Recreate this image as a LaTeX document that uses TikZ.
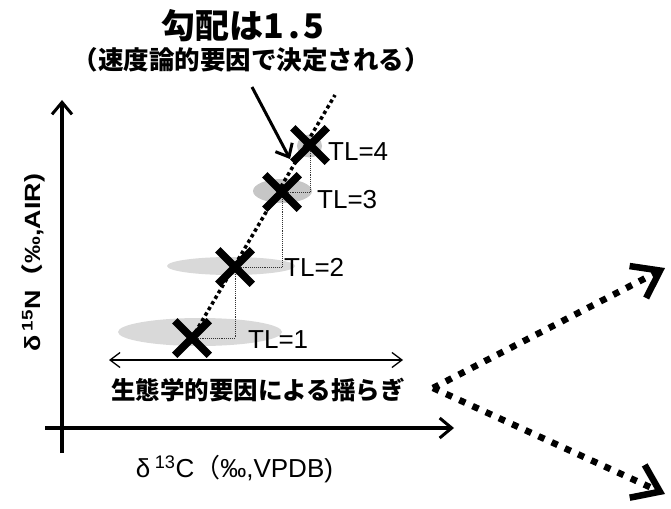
\documentclass[tikz,border=0pt]{standalone}
\usepackage{fontspec}
\setmainfont{Liberation Sans}
\newfontfamily\jp{Noto Sans CJK JP}
\usetikzlibrary{arrows.meta,shapes.misc}
\begin{document}
\begin{tikzpicture}[x=1pt,y=-1pt,
  axis/.style={line width=4pt, -{Straight Barb[length=12pt,width=20pt,line width=3pt]}},
  xmark/.style={cross out, draw, line width=7.5pt, minimum size=27pt, inner sep=0pt},
  blob/.style={fill=gray!30},
  blobdark/.style={fill=gray!45},
  stepline/.style={densely dotted, line width=0.9pt, draw=black!80},
  trend/.style={line width=3.5pt, dash pattern=on 3.5pt off 3pt},
  bigdot/.style={line width=6.5pt, dash pattern=on 6.5pt off 8pt, -{Straight Barb[length=25pt,width=36pt,line width=6.5pt]}},
  tl/.style={font=\fontsize{26}{28}\selectfont, anchor=base west, inner sep=0pt},
  jpbold/.style={font=\jp\bfseries\fontsize{#1}{#1}\selectfont, inner sep=0pt},
]
\useasboundingbox (0,0) rectangle (671,508);

% axes
\coordinate (xo) at (45,428);
\coordinate (xe) at (454,428);
\coordinate (yo) at (62,453);
\coordinate (ye) at (62,100);
\draw[axis] (xo) -- (xe);
\draw[axis] (yo) -- (ye);

% variation ellipses
\fill[blob] (200,332) ellipse [x radius=82, y radius=14];
\fill[blob] (231,266) ellipse [x radius=64, y radius=9];
\fill[blobdark] (282.5,191) ellipse [x radius=29.5, y radius=12];
\fill[blobdark] (309.5,146) ellipse [x radius=12.5, y radius=11.5];

% cross positions
\coordinate (p1) at (192,338);
\coordinate (p2) at (235,267);
\coordinate (p3) at (282,192);
\coordinate (p4) at (310,145);

% step lines
\draw[stepline] (p1) -| (p2);
\draw[stepline] (p2) -| (p3);
\draw[stepline] (p3) -| (p4);

% trend line
\coordinate (ttop) at (335,95);
\draw[trend] (p1) -- (ttop);

% crosses
\node[xmark] (c1) at (p1) {};
\node[xmark] (c2) at (p2) {};
\node[xmark] (c3) at (p3) {};
\node[xmark] (c4) at (p4) {};

% TL labels
\node[tl] (t1) at (248,348) {TL=1};
\node[tl] (t2) at (284,276) {TL=2};
\node[tl] (t3) at (317,208) {TL=3};
\node[tl] (t4) at (328,160) {TL=4};

% titles
\node[jpbold=34] (title) at (243,26) {勾配は1\kern4pt.\kern4pt5};
\node[jpbold=25.5] (sub) at (251,60) {（速度論的要因で決定される）};

% pointer arrow
\coordinate (aS) at (252,87);
\coordinate (aE) at (290,159);
\draw[line width=3pt, -{Straight Barb[length=11pt,width=19pt,line width=3pt]}] (aS) -- (aE);

% fluctuation
\coordinate (d1) at (109,360);
\coordinate (d2) at (403,360);
\draw[line width=1.3pt, {Straight Barb[length=10pt,width=15pt]}-{Straight Barb[length=10pt,width=15pt]}] (d1) -- (d2);
\node[jpbold=24.5] (fl) at (258,390) {生態学的要因による揺らぎ};

% axis labels
\node[inner sep=0pt, font=\fontsize{26}{28}\selectfont] (xl) at (234.5,469) {δ\,\textsuperscript{13}C{\jp（}‰,VPDB)};
\node[rotate=90, inner sep=0pt] (yl) at (33,263) {\scalebox{1.22}[1]{\bfseries\fontsize{22}{24}\selectfont δ\,\textsuperscript{15}N{\jp（}‰,AIR)}};

% fork arrows
\coordinate (fork) at (433,388);
\coordinate (up) at (665,268);
\coordinate (dn) at (665,494);
\draw[bigdot] (fork) -- (up);
\draw[bigdot] (fork) -- (dn);
\end{tikzpicture}
\end{document}
